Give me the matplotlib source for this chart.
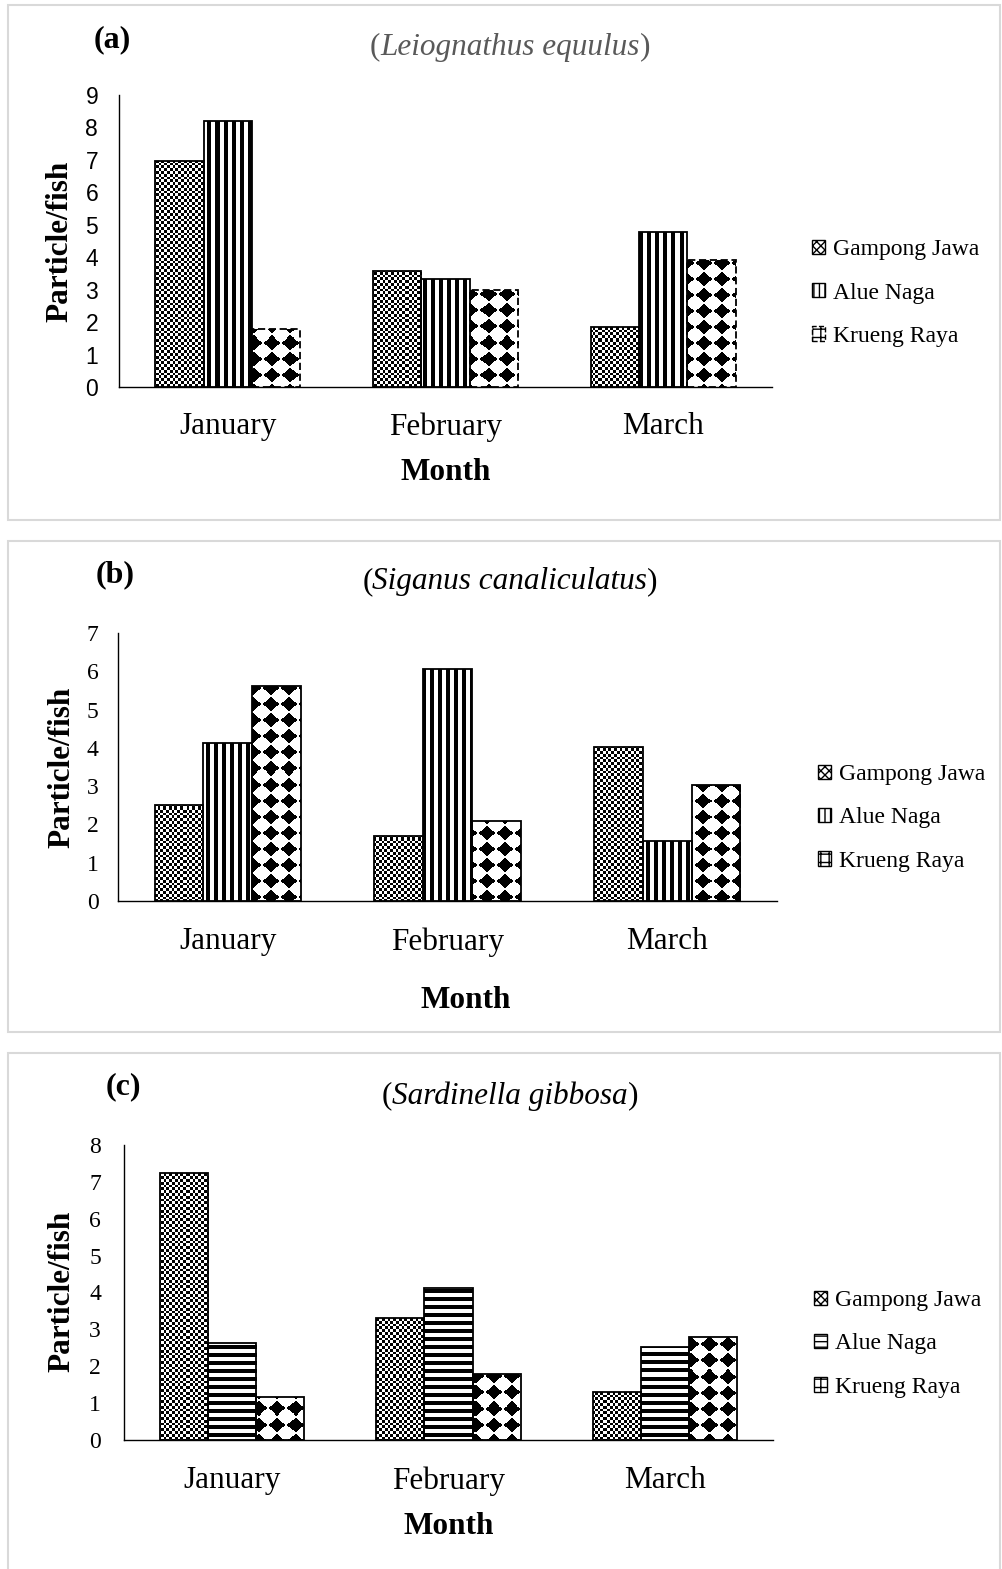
import numpy as np
import matplotlib
matplotlib.use("Agg")
import matplotlib.pyplot as plt
from matplotlib.patches import Rectangle, Patch

# ---- data -------------------------------------------------------------
months = ["January", "February", "March"]
sites = ["Gampong Jawa", "Alue Naga", "Krueng Raya"]

a_gampong = [6.96, 3.56, 1.86]
a_alue = [8.21, 3.34, 4.79]
a_krueng = [1.80, 2.99, 3.91]

b_gampong = [2.52, 1.71, 4.02]
b_alue = [4.12, 6.06, 1.57]
b_krueng = [5.62, 2.08, 3.02]

c_gampong = [7.23, 3.31, 1.29]
c_alue = [2.62, 4.11, 2.53]
c_krueng = [1.17, 1.79, 2.80]

a_ticks = list(range(0, 10))
b_ticks = list(range(0, 8))
c_ticks = list(range(0, 9))

# ---- figure -----------------------------------------------------------
W, H = 1003, 1569
DPI = 100
fig = plt.figure(figsize=(W / DPI, H / DPI), dpi=DPI)
SERIF = ["Liberation Serif", "DejaVu Serif"]
SANS_NARROW = ["Liberation Sans Narrow", "Liberation Sans", "DejaVu Sans"]
plt.rcParams["font.family"] = SERIF


def fx(x):
    return x / W


def fy(y):
    return 1 - y / H


# panel frames
for top, bot in [(5, 520), (541, 1032), (1053, 1580)]:
    fig.add_artist(Rectangle((fx(8), fy(bot)), fx(1000) - fx(8), fy(top) - fy(bot),
                             transform=fig.transFigure, facecolor="white",
                             edgecolor="#d9d9d9", lw=1.5, zorder=-5))


# ---- fill textures (value 1 = white, 0 = black) -----------------------
def texture(kind, h, w):
    yy, xx = np.mgrid[0:h, 0:w]
    if kind == "checker":
        return ((np.floor(xx / 2.8) + np.floor(yy / 2.8)) % 2).astype(float)
    if kind == "vstripe":
        return ((xx % 8) >= 4).astype(float)
    if kind == "hstripe":
        return ((yy % 8) >= 4).astype(float)
    if kind == "diamond":
        dx = (xx % 18) - 8.5
        dy = (yy % 16) - 7.5
        return ((np.abs(dx) / 8.2 + np.abs(dy) / 7.4) > 1).astype(float)
    raise ValueError(kind)


legend_hatch = {"checker": "xxxx", "vstripe": "|||", "hstripe": "---", "diamond": "++"}


def panel(box, ymax, ticks, series, kinds, dashed_last, tick_font, tick_size, ytick_pad,
          xtick_pad):
    left, top, right, bottom = box
    ax = fig.add_axes([fx(left), fy(bottom), fx(right) - fx(left), fy(top) - fy(bottom)])
    ax.set_facecolor("none")
    pw, ph = right - left, bottom - top
    width = 1 / 4.5
    x = np.arange(len(months))
    for i, (vals, kind) in enumerate(zip(series, kinds)):
        ls = (0, (4, 2)) if (dashed_last and i == 2) else "-"
        bars = ax.bar(x + (i - 1) * width, vals, width=width, facecolor="none",
                      edgecolor="black", lw=1.3, linestyle=ls, zorder=3)
        tex = texture(kind, ph, pw)
        for b in bars:
            im = ax.imshow(tex, extent=(-0.5, 2.5, 0, ymax), origin="upper", aspect="auto",
                           interpolation="nearest", cmap="gray", vmin=0, vmax=1, zorder=2)
            im.set_clip_path(b)
    ax.set_xlim(-0.5, 2.5)
    ax.set_ylim(0, ymax)
    ax.set_aspect("auto")
    ax.set_xticks(x, months)
    ax.set_yticks(ticks, [str(t) for t in ticks])
    ax.tick_params(axis="both", length=0)
    ax.tick_params(axis="x", pad=xtick_pad, labelsize=22.5, labelfontfamily=SERIF[0])
    ax.tick_params(axis="y", pad=ytick_pad, labelsize=tick_size, labelfontfamily=tick_font)
    for s in ["top", "right"]:
        ax.spines[s].set_visible(False)
    for s in ["left", "bottom"]:
        ax.spines[s].set_linewidth(1.0)
        ax.spines[s].set_color("black")
    return ax


def legend(kinds, x, yc, dashed_last):
    handles = []
    for i, k in enumerate(kinds):
        handles.append(Patch(facecolor="white", edgecolor="black", hatch=legend_hatch[k],
                             lw=1.0, linestyle="--" if (dashed_last and i == 2) else "-"))
    fig.legend(handles, sites, loc="center left", bbox_to_anchor=(fx(x), fy(yc)),
               frameon=False, prop={"family": SERIF, "size": 17}, handlelength=0.55,
               handleheight=0.55, handletextpad=0.35, labelspacing=0.95, borderpad=0,
               borderaxespad=0)


def species_title(name, xc, yc, color):
    # upright brackets around an italic species name, centred as one line
    rend = fig.canvas.get_renderer()
    pieces = [("(", "normal"), (name, "italic"), (")", "normal")]
    widths = []
    for s, style in pieces:
        t = fig.text(0, 0, s, fontsize=22.5, style=style)
        widths.append(t.get_window_extent(rend).width)
        t.remove()
    xcur = xc - sum(widths) / 2
    for (s, style), w in zip(pieces, widths):
        fig.text(xcur / W, fy(yc), s, fontsize=22.5, style=style, ha="left", va="center",
                 color=color)
        xcur += w


def texts(letter, lx, ly, title, ty, title_color, ylab_x, ylab_y, month_x, month_y):
    fig.text(fx(lx), fy(ly), letter, fontsize=23, fontweight="bold", ha="center", va="center")
    species_title(title, 510, ty, title_color)
    fig.text(fx(ylab_x), fy(ylab_y), "Particle/fish", fontsize=22.5, fontweight="bold",
             rotation=90, ha="center", va="center")
    fig.text(fx(month_x), fy(month_y), "Month", fontsize=22.5, fontweight="bold",
             ha="center", va="center")


# (a) Leiognathus equulus
panel((119, 95, 772, 387), 9, a_ticks, [a_gampong, a_alue, a_krueng],
      ["checker", "vstripe", "diamond"], True, SANS_NARROW[1], 16.5, 15, 18)
legend(["checker", "vstripe", "diamond"], 812, 293, True)
texts("(a)", 112, 40, "Leiognathus equulus", 47, "#595959", 60, 241, 446, 473)

# (b) Siganus canaliculatus
panel((118, 633, 777, 901), 7, b_ticks, [b_gampong, b_alue, b_krueng],
      ["checker", "vstripe", "diamond"], False, SERIF[0], 17, 14, 19)
legend(["checker", "vstripe", "diamond"], 818, 818, False)
texts("(b)", 115, 575, "Siganus canaliculatus", 582, "black", 62, 767, 466, 1001)

# (c) Sardinella gibbosa
panel((124, 1145, 773, 1440), 8, c_ticks, [c_gampong, c_alue, c_krueng],
      ["checker", "hstripe", "diamond"], False, SERIF[0], 17, 16.5, 19)
legend(["checker", "hstripe", "diamond"], 814, 1344, False)
texts("(c)", 123, 1087, "Sardinella gibbosa", 1096, "black", 62, 1291, 449, 1526)

fig.savefig("out.png", dpi=DPI)
